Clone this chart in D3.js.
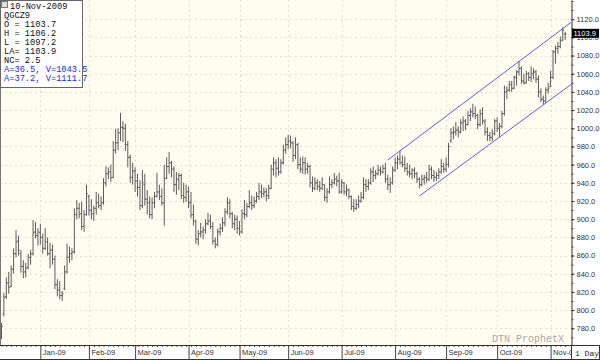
<!DOCTYPE html>
<html>
<head>
<meta charset="utf-8">
<script src="https://cdn.jsdelivr.net/npm/d3@7"></script>
<style>
  body { margin: 0; background: #fff; }
</style>
</head>
<body>
<div id="chart"></div>
<script>
// daily bars, [open, high, low, close], one array per month
const dec08 = [[770,786,768,782],[796,819,793,814],[815,836,812,830],[830,842,818,825],[826,849,825,845],[845,868,840,862],[862,888,858,875],[876,882,860,866],[862,866,841,848],[848,855,835,842],[842,852,836,846],[847,862,845,858],[858,866,850,862],[862,899,860,885],[886,897,879,882],[882,890,871,886]];
const jan09 = [[885,895,872,880],[880,884,862,868],[868,890,866,875],[875,880,860,862],[862,874,846,866],[866,872,850,856],[856,860,823,828],[828,834,815,822],[822,832,812,816],[816,821,810,818],[824,849,822,842],[842,873,840,858],[858,870,852,862],[862,868,855,864],[864,912,862,905],[905,921,900,912],[912,918,901,906],[906,919,888,892],[892,910,886,905],[905,938,904,928]];
const feb09 = [[925,927,904,910],[910,922,900,906],[906,915,898,912],[912,930,905,918],[918,928,912,915],[915,925,910,918],[918,945,916,940],[940,958,936,950],[950,957,944,952],[952,960,941,946],[946,986,945,976],[976,999,972,984],[984,1000,976,995],[995,1017,986,1001],[1001,1008,985,1000],[1000,1005,975,982],[982,986,957,968],[968,971,940,946],[946,962,938,953]];
const mar09 = [[953,957,930,942],[942,950,925,935],[935,943,910,915],[915,954,912,940],[938,950,915,922],[922,932,905,918],[918,925,901,905],[905,924,900,918],[918,930,912,925],[925,951,924,930],[930,938,921,925],[925,934,915,918],[918,960,893,945],[945,968,944,958],[958,974,950,962],[962,964,946,955],[955,958,930,938],[938,952,927,944],[944,951,932,948],[948,950,922,926],[926,940,918,924],[924,938,919,930]];
const apr09 = [[930,936,912,918],[918,930,901,905],[905,916,893,898],[898,899,873,878],[878,888,871,884],[884,896,880,886],[886,892,878,888],[888,900,884,895],[895,907,893,898],[898,905,889,892],[892,897,872,876],[876,880,868,872],[872,890,870,886],[886,895,882,890],[890,902,886,896],[896,912,892,908],[908,924,905,918],[918,922,901,906],[906,908,890,895],[895,905,888,900],[900,904,884,890]];
const may09 = [[890,898,882,886],[886,911,884,906],[906,921,900,905],[905,918,902,914],[914,932,912,918],[918,926,910,915],[915,925,912,920],[920,930,918,925],[925,940,921,930],[930,938,923,928],[928,935,924,930],[930,934,920,926],[926,938,922,934],[934,960,933,955],[955,968,948,962],[962,966,946,956],[956,968,948,952],[952,966,950,962],[962,982,960,976],[976,990,972,982]];
const jun09 = [[982,993,977,986],[986,992,978,984],[984,986,963,970],[970,990,966,982],[982,984,955,960],[960,968,951,955],[955,969,950,962],[962,968,949,955],[955,962,950,958],[958,960,935,940],[940,947,930,934],[934,946,932,940],[940,944,932,936],[936,942,930,934],[934,946,932,938],[938,938,920,924],[924,934,918,930],[930,947,928,938],[938,944,934,940],[940,951,938,944],[944,948,936,942],[942,951,928,930]];
const jul09 = [[930,944,928,940],[940,941,927,930],[930,938,925,932],[932,934,922,925],[925,926,910,914],[914,922,908,912],[912,922,910,916],[916,926,912,920],[920,930,918,924],[924,946,922,938],[938,944,930,936],[936,944,932,940],[940,956,938,952],[952,958,941,948],[948,954,944,950],[950,960,948,954],[954,958,948,952],[952,960,950,956],[956,962,940,944],[944,949,932,938],[938,946,929,940],[940,958,938,954]];
const aug09 = [[954,968,952,962],[962,970,955,966],[966,975,960,962],[962,970,957,960],[960,969,952,956],[956,962,948,952],[952,960,946,950],[950,956,944,954],[954,957,945,950],[950,952,940,944],[944,946,934,938],[938,949,936,944],[944,949,938,946],[946,952,940,944],[944,960,942,955],[955,958,944,948],[948,954,941,946],[946,952,942,948],[948,956,944,952],[952,966,950,958],[958,962,951,955]];
const sep09 = [[955,968,952,960],[960,984,957,980],[986,1000,984,995],[995,1002,988,996],[996,1007,992,998],[998,1002,990,996],[996,1010,994,1006],[1006,1013,997,1008],[1008,1010,998,1004],[1004,1019,1003,1014],[1014,1022,1008,1018],[1018,1027,1012,1016],[1016,1024,1010,1014],[1014,1016,999,1004],[1004,1021,1002,1016],[1016,1023,1004,1008],[1008,1010,992,996],[996,1001,986,992],[992,996,986,990],[990,999,986,994],[994,1010,992,1008]];
const oct09 = [[1008,1012,996,1000],[1000,1006,990,1002],[1002,1019,1000,1016],[1016,1047,1014,1040],[1040,1046,1032,1042],[1042,1052,1040,1048],[1048,1052,1040,1044],[1044,1058,1043,1056],[1056,1064,1047,1062],[1062,1074,1058,1066],[1066,1068,1049,1052],[1052,1060,1048,1050],[1050,1063,1049,1060],[1060,1062,1052,1056],[1056,1068,1051,1060],[1060,1066,1054,1062],[1062,1064,1050,1054],[1054,1058,1034,1040],[1040,1044,1029,1032],[1032,1036,1026,1030],[1030,1045,1028,1042],[1042,1050,1038,1044]];
const nov09 = [[1046,1063,1045,1056],[1056,1086,1054,1084],[1084,1091,1071,1088],[1088,1095,1082,1090],[1090,1101,1088,1096],[1097,1111,1096,1108],[1103.7,1106.2,1097.2,1103.9]];

const months = [dec08, jan09, feb09, mar09, apr09, may09, jun09, jul09, aug09, sep09, oct09, nov09];
const monthLabels = ["Dec-08", "Jan-09", "Feb-09", "Mar-09", "Apr-09", "May-09", "Jun-09", "Jul-09", "Aug-09", "Sep-09", "Oct-09", "Nov-09"];
const priceTicks = [780, 800, 820, 840, 860, 880, 900, 920, 940, 960, 980, 1000, 1020, 1040, 1060, 1080, 1100, 1120];

// trend channel: [bar index, price]
const upperChannel = [[159, 965.1], [234.4, 1116.5]];
const lowerChannel = [[172, 925.5], [234.4, 1048.2]];

const infoLines = ["QGCZ9", "O = 1103.7", "H = 1106.2", "L = 1097.2", "LA= 1103.9", "NC= 2.5"];
const channelLines = ["A=36.5, V=1043.5", "A=37.2, V=1111.7"];
const lastPrice = 1103.9;

const width = 600, height = 360;
const plotW = 571, plotH = 345;

const bars = months.flat().map((d, i) => ({ i: i, o: d[0], h: d[1], l: d[2], c: d[3] }));

// first bar index of each month
const monthStart = [];
let n = 0;
months.forEach(m => { monthStart.push(n); n += m.length; });
const tickIdx = monthStart.slice(1);
const tickLab = monthLabels.slice(1);

const x = d3.scaleLinear().domain([-0.6, 234.4]).range([0, plotW]);
const y = d3.scaleLinear().domain([761.6, 1141.1]).range([plotH, 0]);

const svg = d3.select("#chart").append("svg")
  .attr("width", width)
  .attr("height", height)
  .style("display", "block");

svg.append("rect").attr("width", width).attr("height", height).attr("fill", "#fff");

const defs = svg.append("defs");
defs.append("clipPath").attr("id", "plotClip")
  .append("rect").attr("width", plotW).attr("height", plotH);

const plot = svg.append("g").attr("clip-path", "url(#plotClip)");

plot.append("rect")
  .attr("width", plotW)
  .attr("height", plotH)
  .attr("fill", "#fffdf0");

// grid
plot.selectAll(".hgrid")
  .data(priceTicks)
  .enter()
  .append("line")
  .attr("x1", 0).attr("x2", plotW)
  .attr("y1", d => Math.round(y(d)) + 0.5)
  .attr("y2", d => Math.round(y(d)) + 0.5)
  .attr("stroke", "#e4e0d0")
  .attr("stroke-dasharray", "2,3");

plot.selectAll(".vgrid")
  .data(tickIdx)
  .enter()
  .append("line")
  .attr("y1", 0).attr("y2", plotH)
  .attr("x1", d => Math.round(x(d)) + 0.5)
  .attr("x2", d => Math.round(x(d)) + 0.5)
  .attr("stroke", "#e4e0d0")
  .attr("stroke-dasharray", "2,3");

// OHLC bars
plot.selectAll(".bar")
  .data(bars)
  .enter()
  .append("path")
  .attr("class", "bar")
  .attr("d", d => {
    const cx = x(d.i);
    return `M${cx},${y(d.h)}V${y(d.l)}M${cx - 1.3},${y(d.o)}H${cx}M${cx},${y(d.c)}H${cx + 1.3}`;
  })
  .attr("fill", "none")
  .attr("stroke", "#5a5a5a")
  .attr("stroke-width", 1);

// channel lines
const line = d3.line().x(d => x(d[0])).y(d => y(d[1]));
[upperChannel, lowerChannel].forEach(c => {
  plot.append("path")
    .attr("d", line(c))
    .attr("fill", "none")
    .attr("stroke", "#5c5cf5")
    .attr("stroke-width", 1);
});

// watermark
plot.append("text")
  .attr("x", 492)
  .attr("y", 342)
  .style("font-family", "Liberation Mono, monospace")
  .style("font-size", "10px")
  .style("fill", "#a8a8a8")
  .text("DTN ProphetX");

// left border
svg.append("line")
  .attr("x1", 0.5).attr("x2", 0.5)
  .attr("y1", 0).attr("y2", plotH)
  .attr("stroke", "#777");

// right price axis
const yAxis = svg.append("g")
  .attr("transform", `translate(${plotW + 0.5},0)`)
  .call(d3.axisRight(y).tickValues(priceTicks).tickSize(3).tickSizeOuter(0).tickFormat(d3.format(".1f")));

svg.append("g")
  .attr("transform", `translate(${plotW + 0.5},0)`)
  .call(d3.axisRight(y).tickValues(d3.range(770, 1141, 10)).tickSize(2).tickSizeOuter(0).tickFormat(""))
  .call(g => g.select(".domain").remove())
  .selectAll("line").attr("stroke", "#444");

yAxis.select(".domain").attr("stroke", "#333");
yAxis.selectAll("line").attr("stroke", "#333");
yAxis.selectAll("text")
  .attr("x", 5)
  .style("font-family", "Liberation Sans, Arial, sans-serif")
  .style("font-size", "7.5px")
  .style("fill", "#333");

// last price tag
svg.append("rect")
  .attr("x", plotW + 1)
  .attr("y", y(lastPrice) - 5)
  .attr("width", 27)
  .attr("height", 9)
  .attr("fill", "#000");
svg.append("text")
  .attr("x", plotW + 2.5)
  .attr("y", y(lastPrice) + 2.5)
  .style("font-family", "Liberation Sans, Arial, sans-serif")
  .style("font-size", "7.5px")
  .style("fill", "#fff")
  .text(d3.format(".1f")(lastPrice));

// bottom date axis
defs.append("clipPath").attr("id", "axisClip")
  .append("rect").attr("width", plotW).attr("height", 15);

const xg = svg.append("g")
  .attr("transform", `translate(0,${plotH})`);

xg.append("rect").attr("width", plotW).attr("height", 15).attr("fill", "#fff");

const xInner = xg.append("g").attr("clip-path", "url(#axisClip)");

xInner.append("g")
  .call(d3.axisBottom(x).tickValues(d3.range(0, bars.length, 2)).tickSize(2).tickSizeOuter(0).tickFormat(""))
  .call(g => g.select(".domain").remove())
  .selectAll("line").attr("stroke", "#555");

xInner.append("g")
  .call(d3.axisBottom(x).tickValues(tickIdx).tickSize(15).tickSizeOuter(0).tickFormat((d, i) => tickLab[i]))
  .call(g => g.select(".domain").remove())
  .call(g => g.selectAll("line").attr("stroke", "#444"))
  .selectAll("text")
  .attr("x", 2)
  .attr("y", 5)
  .attr("text-anchor", "start")
  .style("font-family", "Liberation Sans, Arial, sans-serif")
  .style("font-size", "7.5px")
  .style("fill", "#333");

xg.append("line")
  .attr("x1", 0).attr("x2", width)
  .attr("y1", 0.5).attr("y2", 0.5)
  .attr("stroke", "#333");
xg.append("line")
  .attr("x1", 0).attr("x2", width)
  .attr("y1", 14.5).attr("y2", 14.5)
  .attr("stroke", "#333");

// period box
svg.append("rect")
  .attr("x", plotW + 0.5)
  .attr("y", plotH + 0.5)
  .attr("width", width - plotW - 1)
  .attr("height", 14)
  .attr("fill", "#fff")
  .attr("stroke", "#333");
svg.append("text")
  .attr("x", plotW + 4)
  .attr("y", plotH + 10.5)
  .style("font-family", "Liberation Mono, monospace")
  .style("font-size", "8px")
  .style("fill", "#222")
  .text("1 Day");

// info box
const info = svg.append("g");
info.append("rect")
  .attr("x", 0.5).attr("y", 0.5)
  .attr("width", 82).attr("height", 87)
  .attr("fill", "#fff")
  .attr("stroke", "#666");
info.append("rect")
  .attr("x", 1.5).attr("y", 1.5)
  .attr("width", 6).attr("height", 6)
  .attr("fill", "#ddd")
  .attr("stroke", "#777");

info.append("text")
  .attr("x", 10).attr("y", 8.5)
  .style("font-family", "Liberation Mono, monospace")
  .style("font-size", "8.7px")
  .style("fill", "#111")
  .text("10-Nov-2009");

info.selectAll(".infoLine")
  .data(infoLines)
  .enter()
  .append("text")
  .attr("x", 4)
  .attr("y", (d, i) => 17.7 + i * 9.1)
  .style("font-family", "Liberation Mono, monospace")
  .style("font-size", "8.7px")
  .style("fill", "#111")
  .text(d => d);

info.selectAll(".chanLine")
  .data(channelLines)
  .enter()
  .append("text")
  .attr("x", 4)
  .attr("y", (d, i) => 17.7 + (infoLines.length + i) * 9.1)
  .style("font-family", "Liberation Mono, monospace")
  .style("font-size", "8.7px")
  .style("fill", "#2323ff")
  .text(d => d);
</script>
</body>
</html>
